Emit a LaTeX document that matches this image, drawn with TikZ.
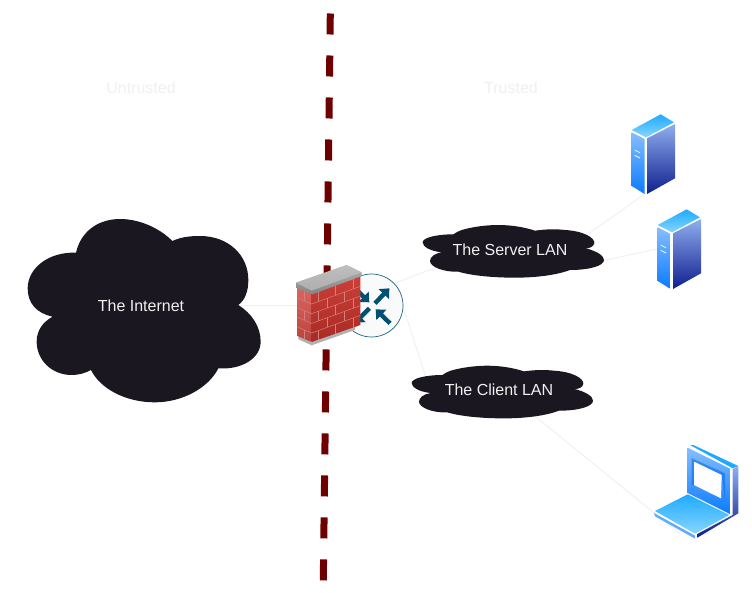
\documentclass[tikz,border=0pt]{standalone}
\usepackage{fontspec}
\setmainfont{Liberation Sans}
\usetikzlibrary{arrows.meta}
\definecolor{cloudink}{HTML}{1A1720}
\definecolor{wirec}{HTML}{F0F0F0}
\definecolor{barrier}{HTML}{6F0000}
\definecolor{teal}{HTML}{005073}
\definecolor{topA}{HTML}{1FAAFF}
\definecolor{topB}{HTML}{86D6FF}
\definecolor{leftA}{HTML}{86BEFF}
\definecolor{leftB}{HTML}{0A7BFF}
\definecolor{rightA}{HTML}{8FAEEE}
\definecolor{rightB}{HTML}{0F1F8F}
\definecolor{brickA}{HTML}{CC3F38}
\definecolor{brickB}{HTML}{A82A24}
\definecolor{brickC}{HTML}{DC645E}
\definecolor{brickD}{HTML}{B8443E}
\definecolor{mortarc}{HTML}{D4807A}
\tikzset{
  cloudshape/.style={fill=cloudink,draw=none},
  wire/.style={draw=wirec,line width=0.9pt},
  lbl/.style={text=white!94!black,font=\fontsize{16}{18}\selectfont,inner sep=0pt},
  zonelbl/.style={text=black!6,font=\fontsize{16}{18}\selectfont,inner sep=0pt},
  zoomed/.style={x=0.33333pt,y=-0.33333pt},
  srvtop/.style={top color=topA,bottom color=topB},
  srvleft/.style={top color=leftA,bottom color=leftB},
  srvright/.style={top color=rightA,bottom color=rightB},
  mortar/.style={draw=mortarc,line width=0.5pt},
  routerarrow/.style={draw=teal,line width=4.4pt,-{Triangle[length=8pt,width=14pt]}},
}
\newcommand{\serverbox}[2]{%
  \begin{scope}[shift={(#1,#2)},zoomed]
    \shade[srvtop] (65,90) -- (152,43) -- (192,67) -- (108,112) -- cycle;
    \shade[srvleft] (65,97) -- (104,117) -- (104,282) -- (65,258) -- cycle;
    \shade[srvright] (111,115) -- (195,72) -- (195,235) -- (111,282) -- cycle;
    \draw[white,line width=0.7pt] (74,150) -- (90,158) (74,166) -- (90,174);
  \end{scope}}
\begin{document}
\begin{tikzpicture}[x=1pt,y=-1pt]
\useasboundingbox (0,0) rectangle (752,593);
\fill[white] (0,0) rectangle (752,593);
% connector anchor points
\coordinate (internetC) at (200,305);
\coordinate (wallC) at (327,305);
\coordinate (routerA) at (372,292);
\coordinate (routerB) at (400,297);
\coordinate (serverlanC) at (510,239);
\coordinate (clientlanC) at (430,390);
\coordinate (serverlanR) at (570,247);
\coordinate (serverlanS) at (560,270);
\coordinate (clientlanR) at (520,404);
\coordinate (srvA) at (660,183);
\coordinate (srvB) at (680,244);
\coordinate (laptopC) at (680,534);
% connectors
\draw[wire] (internetC) -- (wallC);
\draw[wire] (routerA) -- (serverlanC);
\draw[wire] (routerB) -- (clientlanC);
\draw[wire] (serverlanR) -- (srvA);
\draw[wire] (serverlanS) -- (srvB);
\draw[wire] (clientlanR) -- (laptopC);
% barrier
\coordinate (barrierTop) at (330.3,13.5);
\coordinate (barrierEnd) at (323.3,580.5);
\draw[barrier,line width=7pt,dash pattern=on 21pt off 21pt] (barrierTop) -- (barrierEnd);
% zone labels
\node[zonelbl] (untrusted) at (141,88) {Untrusted};
\node[zonelbl] (trusted) at (511,88) {Trusted};
% internet cloud
\begin{scope}[shift={(15,205)},zoomed]
\path[cloudshape] (183,143) .. controls (200,70) and (260,42) .. (315,42)
  .. controls (380,42) and (440,75) .. (472,108)
  .. controls (500,95) and (530,93) .. (555,93)
  .. controls (640,93) and (700,150) .. (700,225)
  .. controls (700,260) and (690,285) .. (670,300)
  .. controls (710,325) and (737,365) .. (737,410)
  .. controls (737,460) and (680,495) .. (610,490)
  .. controls (580,550) and (500,592) .. (420,592)
  .. controls (330,592) and (255,550) .. (228,495)
  .. controls (210,505) and (190,510) .. (170,510)
  .. controls (110,510) and (65,465) .. (65,410)
  .. controls (65,375) and (85,350) .. (113,335)
  .. controls (65,325) and (38,295) .. (38,250)
  .. controls (38,190) and (100,140) .. (183,143) -- cycle;
\end{scope}
% LAN clouds
\foreach \ox/\oy in {400/215,389/355.7}{
\begin{scope}[shift={(\ox,\oy)},zoomed]
\path[cloudshape] (185,45) .. controls (220,35) and (260,30) .. (295,30)
  .. controls (335,30) and (375,37) .. (405,47)
  .. controls (440,42) and (470,42) .. (495,45)
  .. controls (550,48) and (585,68) .. (583,85)
  .. controls (580,95) and (570,100) .. (557,100)
  .. controls (590,108) and (612,122) .. (612,135)
  .. controls (612,152) and (570,165) .. (510,165)
  .. controls (470,180) and (410,188) .. (345,188)
  .. controls (280,188) and (215,182) .. (175,170)
  .. controls (130,172) and (90,155) .. (90,138)
  .. controls (90,125) and (105,115) .. (125,112)
  .. controls (90,108) and (68,95) .. (68,82)
  .. controls (68,68) and (110,58) .. (160,58)
  .. controls (170,52) and (175,48) .. (185,45) -- cycle;
\end{scope}}
\node[lbl] (internet) at (141,306) {The Internet};
\node[lbl] (serverlan) at (510,250) {The Server LAN};
\node[lbl] (clientlan) at (499,390) {The Client LAN};
% router
\node[circle,draw=teal!90!white,line width=0.7pt,fill=black!2,minimum size=63pt,inner sep=0pt] (router) at (371.5,305.5) {};
\begin{scope}[shift={(280,250)},zoomed]
\draw[routerarrow] (285,160) -- (328,115);
\draw[routerarrow] (330,220) -- (287,178);
\draw[routerarrow] (225,115) -- (268,157);
\draw[routerarrow] (268,175) -- (225,218);
\end{scope}
% firewall
\begin{scope}[shift={(280,250)},zoomed]
\fill[black!30] (55,258) -- (95,275) -- (225,228) -- (225,240) -- (95,286) -- (55,268) -- cycle;
\shade[top color=brickC,bottom color=brickD] (52,113) -- (95,131) -- (95,276) -- (52,258) -- cycle;
\shade[top color=brickA,bottom color=brickB] (95,131) -- (241,78) -- (241,225) -- (95,276) -- cycle;
\foreach \k in {1,...,4}{
  \draw[mortar] (52,{115+29*\k}) -- (95,{133+29*\k}) -- (241,{80+29*\k});
}
\foreach \k in {0,...,4}{
  \pgfmathsetmacro{\ya}{133+29*\k}
  \pgfmathsetmacro{\yb}{\ya+29}
  \pgfmathtruncatemacro{\odd}{mod(\k,2)}
  \ifnum\odd=0
    \foreach \t in {20,72,124}{
      \draw[mortar] ({95+\t},{\ya-\t*0.363}) -- ({95+\t},{\yb-\t*0.363});
    }
    \draw[mortar] (72,{\ya-9}) -- (72,{\yb-9});
  \else
    \foreach \t in {46,98}{
      \draw[mortar] ({95+\t},{\ya-\t*0.363}) -- ({95+\t},{\yb-\t*0.363});
    }
  \fi
}
\shade[top color=black!30,bottom color=black!48] (48,98) -- (200,45) -- (245,67) -- (245,78) -- (97,133) -- (48,113) -- cycle;
\fill[black!22,opacity=0.6] (48,98) -- (200,45) -- (245,67) -- (95,122) -- cycle;
\end{scope}
% servers
\serverbox{610}{100}
\serverbox{636}{195}
% laptop
\begin{scope}[shift={(640,435)},zoomed]
\shade[srvright] (278,102) -- (295,94) -- (295,235) -- (172,308) -- (172,297) -- (278,240) -- cycle;
\fill[topA] (150,30) -- (160,30) -- (295,93) -- (278,100) -- cycle;
\shade[srvleft] (143,38) -- (272,102) -- (272,238) -- (143,174) -- cycle;
\fill[leftB!90!black,opacity=0.6] (155,70) -- (255,115) -- (255,195) -- (245,120) -- (162,80) -- (162,150) -- (155,150) -- cycle;
\fill[white] (162,80) -- (245,120) -- (243,190) -- (162,150) -- cycle;
\shade[srvtop] (45,228) -- (143,178) -- (268,240) -- (165,296) -- cycle;
\fill[leftA!70!leftB] (42,234) -- (165,302) -- (165,311) -- (45,244) -- cycle;
\end{scope}
\end{tikzpicture}
\end{document}
